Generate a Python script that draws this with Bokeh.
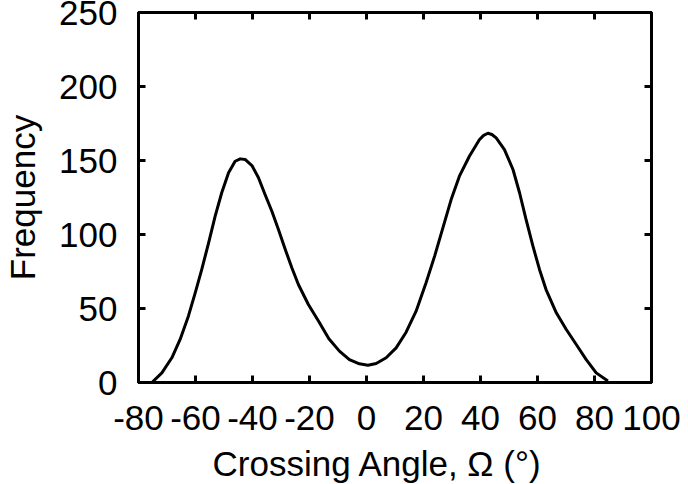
from bokeh.plotting import figure
from bokeh.models import LinearAxis, FixedTicker, Range1d, CustomJSTickFormatter, Title
from bokeh.embed import file_html
from bokeh.resources import INLINE

angle = [-75.3, -71.8, -68.3, -65.4, -62.5, -60.1, -57.8, -55.4, -53.1, -50.8, -48.4, -46.1,
         -44.3, -42.6, -40.2, -37.9, -35.6, -33.2, -30.9, -28.5, -26.2, -23.9, -20.4, -16.8,
         -13.2, -9.5, -6.0, -2.5, 0.5, 3.4, 6.9, 10.4, 13.9, 17.4, 20.9, 23.9,
         26.8, 29.7, 32.6, 36.1, 39.6, 41.1, 42.6, 44.0, 45.5, 48.4, 51.4, 53.7,
         56.0, 58.4, 60.7, 63.0, 66.6, 70.1, 73.6, 77.1, 80.6, 84.7]
frequency = [0.0, 6.5, 16.7, 29.1, 44.8, 60.6, 76.4, 94.4, 112.4, 128.2, 141.7, 149.5,
             151.1, 150.7, 146.6, 138.3, 127.0, 115.7, 103.4, 89.9, 77.5, 66.2, 52.7, 41.4,
             29.5, 21.2, 15.5, 12.6, 11.7, 12.8, 16.7, 23.4, 34.0, 48.2, 67.4, 85.4,
             104.5, 123.6, 139.4, 152.9, 164.0, 167.0, 168.4, 167.6, 165.3, 157.4, 143.9, 128.2,
             110.1, 92.1, 76.4, 62.8, 47.1, 35.8, 25.7, 15.5, 6.5, 1.0]

x_ticks = [-80, -60, -40, -20, 0, 20, 40, 60, 80, 100]
y_ticks = [0, 50, 100, 150, 200, 250]
x_title = "Crossing Angle, \u03a9 (\u00b0)"
y_title = "Frequency"

FONT = "Liberation Sans"
FS = "35px"

p = figure(frame_width=513, frame_height=370, output_backend="svg", toolbar_location=None,
           x_range=Range1d(-80, 100), y_range=Range1d(0, 250),
           min_border_left=131, min_border_right=36, min_border_top=12, min_border_bottom=101,
           x_axis_location=None, y_axis_location=None)
p.grid.visible = False
p.outline_line_color = "black"
p.outline_line_width = 3
p.background_fill_color = "white"
p.border_fill_color = "white"

p.line(angle, frequency, line_color="black", line_width=3, line_join="round")

plain = CustomJSTickFormatter(code="return String(tick);")
blank = CustomJSTickFormatter(code="return '';")

def style(ax, labels=True):
    ax.axis_line_color = "black"
    ax.axis_line_width = 3
    ax.major_tick_in = 7
    ax.major_tick_out = 0
    ax.major_tick_line_width = 3
    ax.minor_tick_line_color = None
    ax.major_label_text_font = FONT
    ax.major_label_text_font_size = FS
    ax.major_label_text_color = "black"
    ax.axis_label_text_font = FONT
    ax.axis_label_text_font_size = FS
    ax.axis_label_text_font_style = "normal"
    ax.axis_label_text_color = "black"
    ax.formatter = plain if labels else blank
    if not labels:
        ax.major_label_standoff = 0
        ax.axis_label_standoff = 0
        ax.major_label_text_font_size = "1px"

xb = LinearAxis(ticker=FixedTicker(ticks=x_ticks))
style(xb)
xb.major_label_standoff = 23
p.add_layout(xb, "below")

xt_title = Title(text=x_title, align="left", offset=74, standoff=18,
                 text_font=FONT, text_font_size=FS, text_font_style="normal",
                 text_color="black")
p.add_layout(xt_title, "below")

yl = LinearAxis(ticker=FixedTicker(ticks=y_ticks), axis_label=y_title)
style(yl)
yl.major_label_standoff = 21
yl.axis_label_standoff = 14
p.add_layout(yl, "left")

xt = LinearAxis(ticker=FixedTicker(ticks=x_ticks))
style(xt, labels=False)
p.add_layout(xt, "above")

yr = LinearAxis(ticker=FixedTicker(ticks=y_ticks))
style(yr, labels=False)
p.add_layout(yr, "right")

open("out.html", "w").write(file_html(p, INLINE))
